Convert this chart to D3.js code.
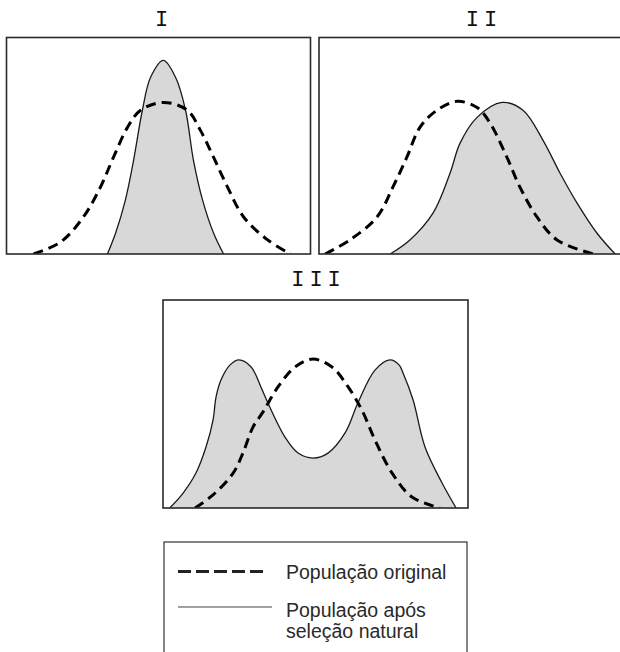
<!DOCTYPE html>
<html>
<head>
<meta charset="utf-8">
<script src="https://cdn.jsdelivr.net/npm/d3@7/dist/d3.min.js"></script>
<style>
  html, body { margin: 0; padding: 0; background: #fff; }
  svg { display: block; }
</style>
</head>
<body>
<svg id="chart" width="620" height="652"></svg>
<script>
// ---------- DATA (trait value 0-100, relative frequency 0-100) ----------
const panelTitles = ["I", "II", "III"];

const p1Original = [[8.9,0],[17.8,5.5],[25.3,17.1],[30.9,30.9],[35.2,44.7],[39.8,58.5],[44.1,66.4],[51.6,70],[59.5,66.4],[63.8,57.1],[68.1,44.7],[72.7,30.9],[78.0,17.1],[85.9,6.5],[93.4,0]];
const p1Selected = [[33.2,0],[35.9,9.7],[39.1,24.9],[41.8,43.3],[44.7,66.4],[47.4,81.6],[51.6,89.4],[55.6,81.6],[58.9,66.4],[61.5,43.3],[64.5,24.9],[68.1,9.7],[71.4,0]];

const p2Original = [[2.0,0],[10.2,6.5],[19.1,17.1],[24.3,30.9],[28.9,44.7],[33.2,58.5],[38.8,66.4],[45.4,70.5],[52.0,67.7],[56.3,60.4],[61.8,44.7],[66.1,30.9],[71.7,17.1],[78.3,6.5],[90.1,0]];
const p2Selected = [[23.4,0],[29.9,6.5],[37.5,18.9],[43.1,37.3],[46.4,51.2],[52.0,63.1],[60.2,70.0],[67.1,66.4],[73.7,52.5],[79.3,37.3],[84.9,23.5],[91.4,9.7],[97.4,0]];

const p3Original = [[10.5,0],[16.4,6.3],[23.0,16.8],[26.2,26.4],[29.5,38.9],[32.8,46.2],[37.7,58.2],[43.3,67.8],[49.2,71.6],[55.4,67.8],[60.7,58.2],[65.2,47.1],[69.5,32.7],[75.1,16.8],[81.6,5.3],[90.8,0]];
const p3Selected = [[2.2,0],[6.6,7.2],[10.8,16.8],[14.1,29.3],[16.4,42.3],[17.4,53.4],[19.0,61.5],[22.0,68.8],[24.9,71.2],[28.9,67.8],[32.1,58.2],[34.4,50.5],[40.0,34.1],[44.3,26.4],[49.2,24.0],[54.1,26.4],[59.7,36.1],[63.9,50.5],[69.5,66.3],[74.4,71.2],[77.4,68.8],[78.7,64.9],[82.0,51.9],[85.9,29.3],[91.5,12.0],[96.1,0]];

const legendLabels = [["População original"], ["População após", "seleção natural"]];

// ---------- LAYOUT ----------
const svg = d3.select("#chart");
const panels = [
  { title: panelTitles[0], orig: p1Original, sel: p1Selected, x0: 6.5, x1: 310.5, yTop: 37.5, yBot: 254, tx: 161.5, ty: 26 },
  { title: panelTitles[1], orig: p2Original, sel: p2Selected, x0: 319, x1: 623, yTop: 37.5, yBot: 254, tx: 481.5, ty: 26 },
  { title: panelTitles[2], orig: p3Original, sel: p3Selected, x0: 163, x1: 468, yTop: 300, yBot: 508, tx: 316, ty: 286 }
];

const defs = svg.append("defs");
const curve = d3.curveCatmullRom.alpha(0.5);
const titleLS = 5;

panels.forEach((p, i) => {
  const x = d3.scaleLinear().domain([0, 100]).range([p.x0, p.x1]);
  const y = d3.scaleLinear().domain([0, 100]).range([p.yBot, p.yTop]);
  const g = svg.append("g");
  const cid = "clip" + i;
  defs.append("clipPath").attr("id", cid).append("rect")
    .attr("x", p.x0).attr("y", p.yTop).attr("width", p.x1 - p.x0).attr("height", p.yBot - p.yTop);

  const area = d3.area().x(d => x(d[0])).y0(y(0)).y1(d => y(d[1])).curve(curve);
  const line = d3.line().x(d => x(d[0])).y(d => y(d[1])).curve(curve);

  const inner = g.append("g").attr("clip-path", `url(#${cid})`);
  inner.append("path").datum(p.sel).attr("d", area).attr("fill", "#d8d8d8").attr("stroke", "none");
  inner.append("path").datum(p.sel).attr("d", line).attr("fill", "none").attr("stroke", "#1a1a1a").attr("stroke-width", 1.3);
  inner.append("path").datum(p.orig).attr("d", line).attr("fill", "none").attr("stroke", "#000")
    .attr("stroke-width", 3).attr("stroke-dasharray", "10,6");

  g.append("rect").attr("x", p.x0).attr("y", p.yTop).attr("width", p.x1 - p.x0).attr("height", p.yBot - p.yTop)
    .attr("fill", "none").attr("stroke", "#2a2a2a").attr("stroke-width", 1.6);

  svg.append("text").attr("x", p.tx).attr("y", p.ty).attr("text-anchor", "middle")
    .attr("font-family", "'Liberation Mono', 'DejaVu Sans Mono', monospace").attr("font-size", 22)
    .attr("letter-spacing", titleLS).attr("dx", titleLS / 2).attr("fill", "#111").text(p.title);
});

// ---------- LEGEND ----------
const lg = svg.append("g");
lg.append("rect").attr("x", 164).attr("y", 542).attr("width", 303).attr("height", 130)
  .attr("fill", "#fff").attr("stroke", "#333").attr("stroke-width", 1.2);
lg.append("line").attr("x1", 178).attr("x2", 266).attr("y1", 571.5).attr("y2", 571.5)
  .attr("stroke", "#222").attr("stroke-width", 3).attr("stroke-dasharray", "13,5");
lg.append("line").attr("x1", 178).attr("x2", 272).attr("y1", 607).attr("y2", 607)
  .attr("stroke", "#444").attr("stroke-width", 1.2);

const textFont = "'Liberation Sans', Arial, sans-serif";
const startY = [579, 617];
legendLabels.forEach((lines, i) => {
  const t = lg.append("text").attr("x", 286).attr("y", startY[i])
    .attr("font-family", textFont).attr("font-size", 19.5).attr("fill", "#2a2a2a");
  lines.forEach((s, j) => {
    t.append("tspan").attr("x", 286).attr("dy", j === 0 ? 0 : 21).text(s);
  });
});
</script>
</body>
</html>
